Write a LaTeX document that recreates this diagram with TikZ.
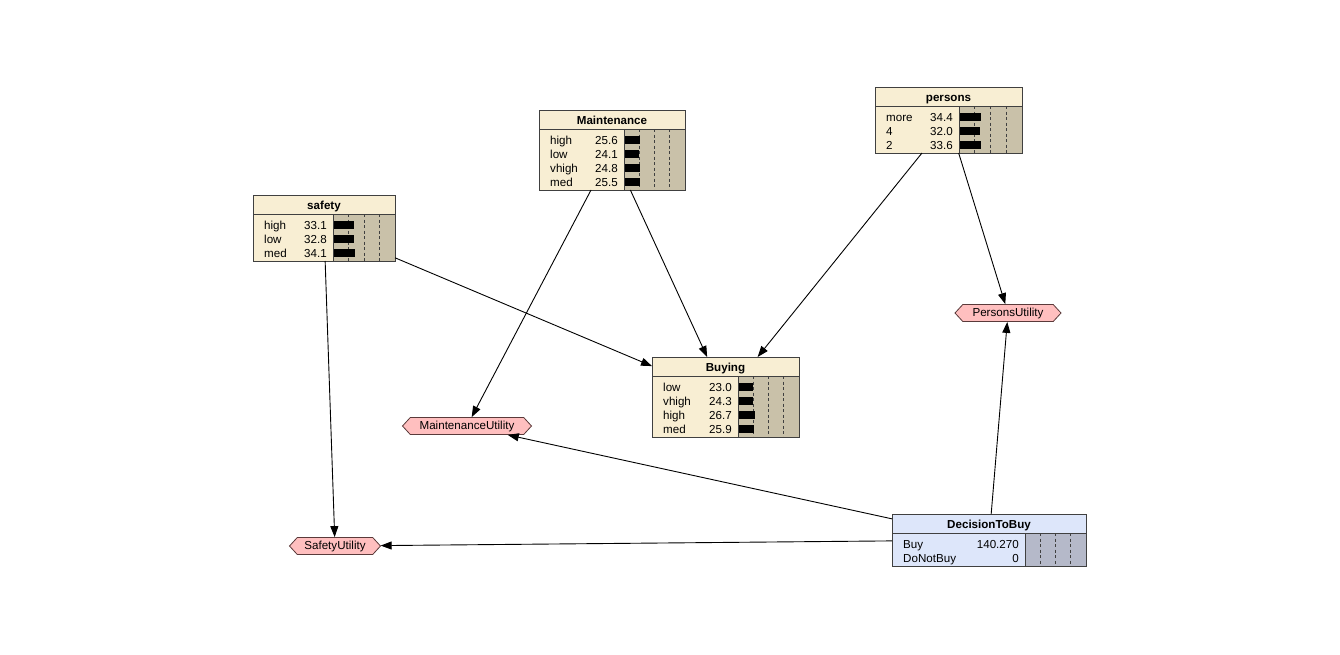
\documentclass[tikz,border=0pt]{standalone}
\usepackage{fontspec}
\setmainfont{Liberation Sans}
\usetikzlibrary{arrows.meta,shapes.symbols}
\definecolor{natfill}{HTML}{F8EED3}
\definecolor{natbar}{HTML}{C9C1A9}
\definecolor{decfill}{HTML}{DDE6FA}
\definecolor{decbar}{HTML}{B5B9C9}
\definecolor{utilfill}{HTML}{FFBFBF}
\definecolor{utilline}{HTML}{5A3A3A}
\definecolor{boxline}{HTML}{404040}
\tikzset{
 edge/.style={draw=black, line width=0.9pt, -{Triangle[length=11pt,width=8pt]}},
 util/.style={shape=signal, signal to=west and east, signal pointer angle=95, draw=utilline, fill=utilfill, line width=0.8pt, minimum height=17pt, inner sep=0pt, font=\fontsize{11.6}{13}\selectfont},
 outline/.style={draw=boxline, line width=1pt},
 divider/.style={draw=boxline, line width=0.9pt},
 gridline/.style={draw=boxline, line width=1pt, dash pattern=on 3pt off 2.5pt},
 rowtext/.style={inner sep=0pt, font=\fontsize{11.6}{13}\selectfont},
 titletext/.style={inner sep=0pt, font=\bfseries\fontsize{11.6}{13}\selectfont},
}
\def\barscale{0.01}
% name, x, y, w, barw, nrows, title, rows, kind(nat/dec)
\newcommand\bnnode[9]{%
  \pgfmathsetmacro\bnh{19+14*#6+5}%
  \pgfmathsetmacro\bnbx{#2+#4-#5}%
  \node[anchor=north west, minimum width=#4pt, minimum height=\bnh pt, inner sep=0pt, outer sep=0pt, fill=#9fill] (#1) at (#2,#3) {};
  \fill[#9bar] (\bnbx,#3+19) rectangle (#1.south east);
  \foreach \f in {0.25,0.5,0.75} \draw[gridline] (\bnbx+\f*#5,#3+19) -- (\bnbx+\f*#5,#3+\bnh);
  \node[titletext, anchor=base] (#1-title) at (#2+#4/2,#3+14) {#7};
  \foreach \lab/\val [count=\i] in {#8} {
    \pgfmathsetmacro\yy{#3+19+11+14*(\i-1)}
    \node[rowtext, anchor=base west] (#1-l\i) at (#2+11,\yy+4.2) {\lab};
    \node[rowtext, anchor=base east] (#1-v\i) at (\bnbx-6,\yy+4.2) {\val};
    \pgfmathsetmacro\bwid{\val*\barscale*#5}
    \fill[black] (\bnbx+0.5,\yy-4) rectangle (\bnbx+0.5+\bwid,\yy+4);
  }
  \draw[divider] (#2,#3+19) -- (#2+#4,#3+19);
  \draw[divider] (\bnbx,#3+19) -- (\bnbx,#3+\bnh);
  \draw[outline] (#1.north west) rectangle (#1.south east);
}
\begin{document}
\begin{tikzpicture}[x=1pt,y=-1pt]
\useasboundingbox (0,0) rectangle (1340,654);
\fill[white] (0,0) rectangle (1340,654);

\bnnode{safety}{253}{195}{142}{62}{3}{safety}{high/33.1,low/32.8,med/34.1}{nat}
\bnnode{maint}{539}{110}{146}{61}{4}{Maintenance}{high/25.6,low/24.1,vhigh/24.8,med/25.5}{nat}
\bnnode{persons}{875}{87}{147}{63}{3}{persons}{more/34.4,4/32.0,2/33.6}{nat}
\bnnode{buying}{652}{357}{147}{61}{4}{Buying}{low/23.0,vhigh/24.3,high/26.7,med/25.9}{nat}
\def\barscale{0}
\bnnode{decision}{892}{514}{194}{61}{2}{DecisionToBuy}{Buy/140.270,DoNotBuy/0}{dec}

\node[util, minimum width=91pt] (sutil) at (335,546) {SafetyUtility};
\node[util, minimum width=129pt] (mutil) at (467,426) {MaintenanceUtility};
\node[util, minimum width=106pt] (putil) at (1008,313) {PersonsUtility};

\draw[edge] (maint) -- (mutil);
\draw[edge] (maint) -- (buying);
\draw[edge] (safety) -- (buying);
\draw[edge] (safety) -- (sutil);
\draw[edge] (persons) -- (buying);
\draw[edge] (persons) -- (putil);
\draw[edge] (decision) -- (putil);
\draw[edge] (decision) -- (mutil);
\draw[edge] (decision) -- (sutil);
\end{tikzpicture}
\end{document}
